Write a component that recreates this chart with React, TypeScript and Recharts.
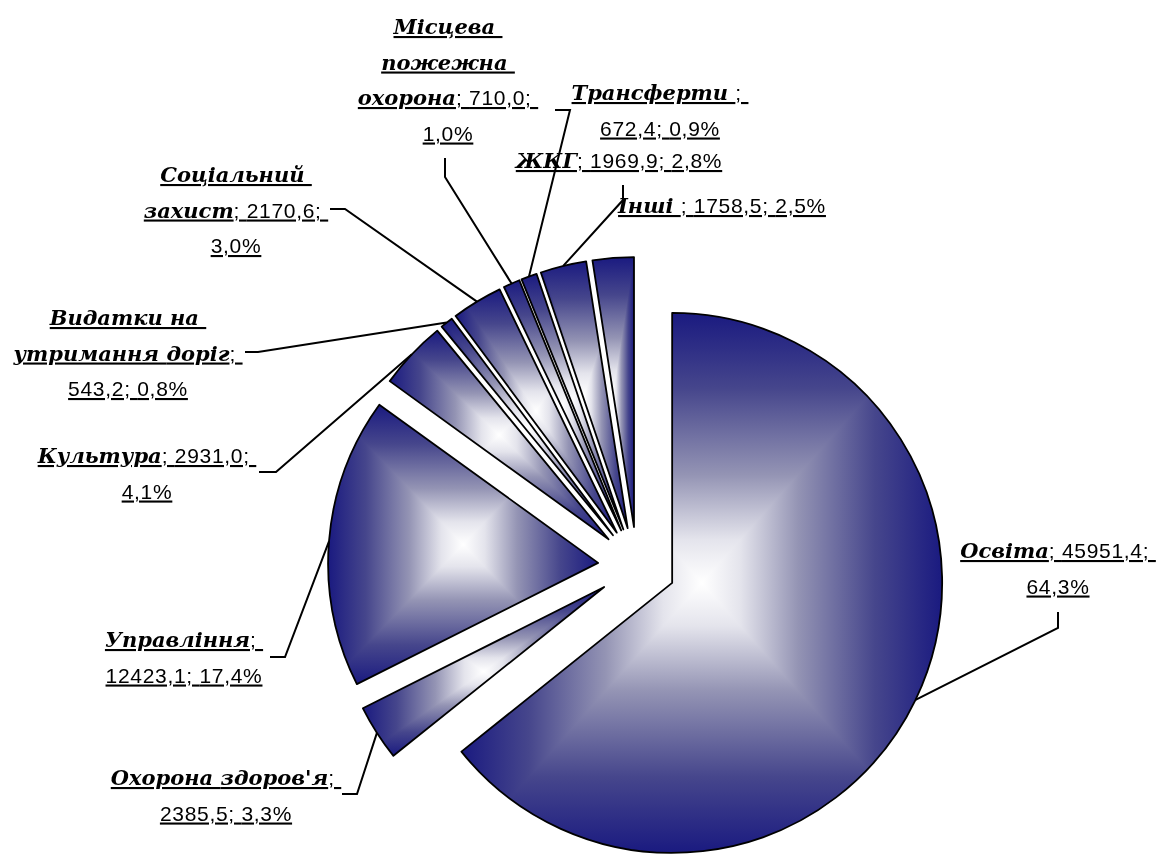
import React from 'react';
import { PieChart, Pie, Sector } from 'recharts';

// spending items, clockwise from 12 o'clock
const categories = [
  'Освіта',
  "Охорона здоров'я",
  'Управління',
  'Культура',
  'Видатки на утримання доріг',
  'Соціальний захист',
  'Місцева пожежна охорона',
  'Трансферти ',
  'ЖКГ',
  'Інші ',
];
const amounts = [45951.4, 2385.5, 12423.1, 2931.0, 543.2, 2170.6, 710.0, 672.4, 1969.9, 1758.5];

const data = categories.map((name, i) => ({ name, value: amounts[i] }));

// label placement: centre x, first baseline, tokens per line, leader elbow
const labelLayout = [
  { x: 1058, y: 558, split: [3, 1], leader: [[1058, 612], [1058, 628]] },
  { x: 226, y: 785, split: [3, 2], leader: [[342, 794], [357, 794]] },
  { x: 184, y: 647, split: [2, 2], leader: [[270, 657], [285, 657]] },
  { x: 147, y: 463, split: [3, 1], leader: [[259, 472], [276, 472]] },
  { x: 128, y: 325, split: [2, 3, 2], leader: [[245, 352], [258, 352]] },
  { x: 236, y: 182, split: [1, 3, 1], leader: [[330, 209], [345, 209]] },
  { x: 448, y: 34, split: [1, 1, 3, 1], leader: [[445, 158], [445, 177]] },
  { x: 660, y: 100, split: [2, 2], leader: [[555, 110], [570, 110]] },
  { x: 619, y: 168, split: [4], leader: [[623, 185], [623, 200]] },
  { x: 722, y: 213, split: [4], leader: [] },
];

const RAD = Math.PI / 180;
const EXPLODE = 39;
const LINE_H = 35.5;
const NAVY = '#1a1a80';
const fadeStops = [
  [0, NAVY],
  [0.14, '#46468c'],
  [0.3, '#9494b4'],
  [0.42, '#e4e4ec'],
  [0.5, '#ffffff'],
  [0.58, '#e4e4ec'],
  [0.7, '#9494b4'],
  [0.86, '#46468c'],
  [1, NAVY],
];

const nameFont = { fontFamily: '"DejaVu Serif", serif', fontWeight: 700, fontStyle: 'italic' as const };
const valueFont = {
  fontFamily: '"Liberation Sans Narrow", "Liberation Sans", sans-serif',
  fontWeight: 400,
  letterSpacing: 0.7,
};

const fmt = (v: number, d = 1) => v.toFixed(d).replace('.', ',');

function shift(cx: number, cy: number, angle: number, r: number) {
  return [cx + r * Math.cos(-angle * RAD), cy + r * Math.sin(-angle * RAD)];
}

function renderSlice(props: any) {
  const { cx, cy, outerRadius, startAngle, endAngle, midAngle } = props;
  const [x, y] = shift(cx, cy, midAngle, EXPLODE);
  const geo = { cx: x, cy: y, innerRadius: 0, outerRadius, startAngle, endAngle };
  return (
    <g>
      <Sector {...geo} fill="url(#fadeX)" stroke="none" />
      <Sector {...geo} fill="url(#fadeY)" stroke="none" style={{ mixBlendMode: 'darken' }} />
      <Sector {...geo} fill="none" stroke="#000" strokeWidth={1.8} strokeLinejoin="round" />
    </g>
  );
}

function renderCaption(props: any) {
  const { cx, cy, outerRadius, midAngle, index, name, value, percent } = props;
  const box = labelLayout[index];
  const words: string[] = name.match(/[^ ]+ ?/g) || [name];
  const tokens = [
    ...words.map((t) => ({ t, bold: true })),
    { t: '; ', bold: false },
    { t: fmt(value) + '; ', bold: false },
    { t: fmt(percent * 100) + '%', bold: false },
  ];
  const lines: typeof tokens[] = [];
  let k = 0;
  box.split.forEach((n) => {
    lines.push(tokens.slice(k, k + n));
    k += n;
  });
  const [ex, ey] = shift(cx, cy, midAngle, EXPLODE);
  const [tx, ty] = shift(ex, ey, midAngle, outerRadius);
  const pts = box.leader.length ? [...box.leader, [tx, ty]] : [];
  return (
    <g>
      {pts.length > 0 && (
        <polyline points={pts.map((p) => p.join(',')).join(' ')} fill="none" stroke="#000" strokeWidth={2} />
      )}
      {lines.map((line, li) => (
        <text
          key={li}
          x={box.x}
          y={box.y + li * LINE_H}
          textAnchor="middle"
          fontSize={21}
          fill="#000"
          textDecoration="underline"
          style={{ whiteSpace: 'pre' }}
        >
          {line.map((tk, ti) => (
            <tspan key={ti} {...(tk.bold ? nameFont : valueFont)}>
              {tk.t}
            </tspan>
          ))}
        </text>
      ))}
    </g>
  );
}

export default function App() {
  return (
    <div style={{ position: 'absolute', left: 0, top: 0, background: '#fff' }}>
      <svg width={0} height={0} style={{ position: 'absolute' }}>
        <defs>
          <linearGradient id="fadeX" x1="0" y1="0" x2="1" y2="0">
            {fadeStops.map(([o, c], i) => (
              <stop key={i} offset={o as number} stopColor={c as string} />
            ))}
          </linearGradient>
          <linearGradient id="fadeY" x1="0" y1="0" x2="0" y2="1">
            {fadeStops.map(([o, c], i) => (
              <stop key={i} offset={o as number} stopColor={c as string} />
            ))}
          </linearGradient>
        </defs>
      </svg>
      <PieChart width={1159} height={854} margin={{ top: 0, right: 0, bottom: 0, left: 0 }}>
        <Pie
          data={data}
          dataKey="value"
          nameKey="name"
          cx={637}
          cy={566}
          innerRadius={0}
          outerRadius={270}
          startAngle={90}
          endAngle={-270}
          fill="none"
          stroke="none"
          label={renderSlice}
          labelLine={false}
          isAnimationActive={false}
        />
        <Pie
          data={data}
          dataKey="value"
          nameKey="name"
          cx={637}
          cy={566}
          innerRadius={0}
          outerRadius={270}
          startAngle={90}
          endAngle={-270}
          fill="none"
          stroke="none"
          label={renderCaption}
          labelLine={false}
          isAnimationActive={false}
        />
      </PieChart>
    </div>
  );
}
